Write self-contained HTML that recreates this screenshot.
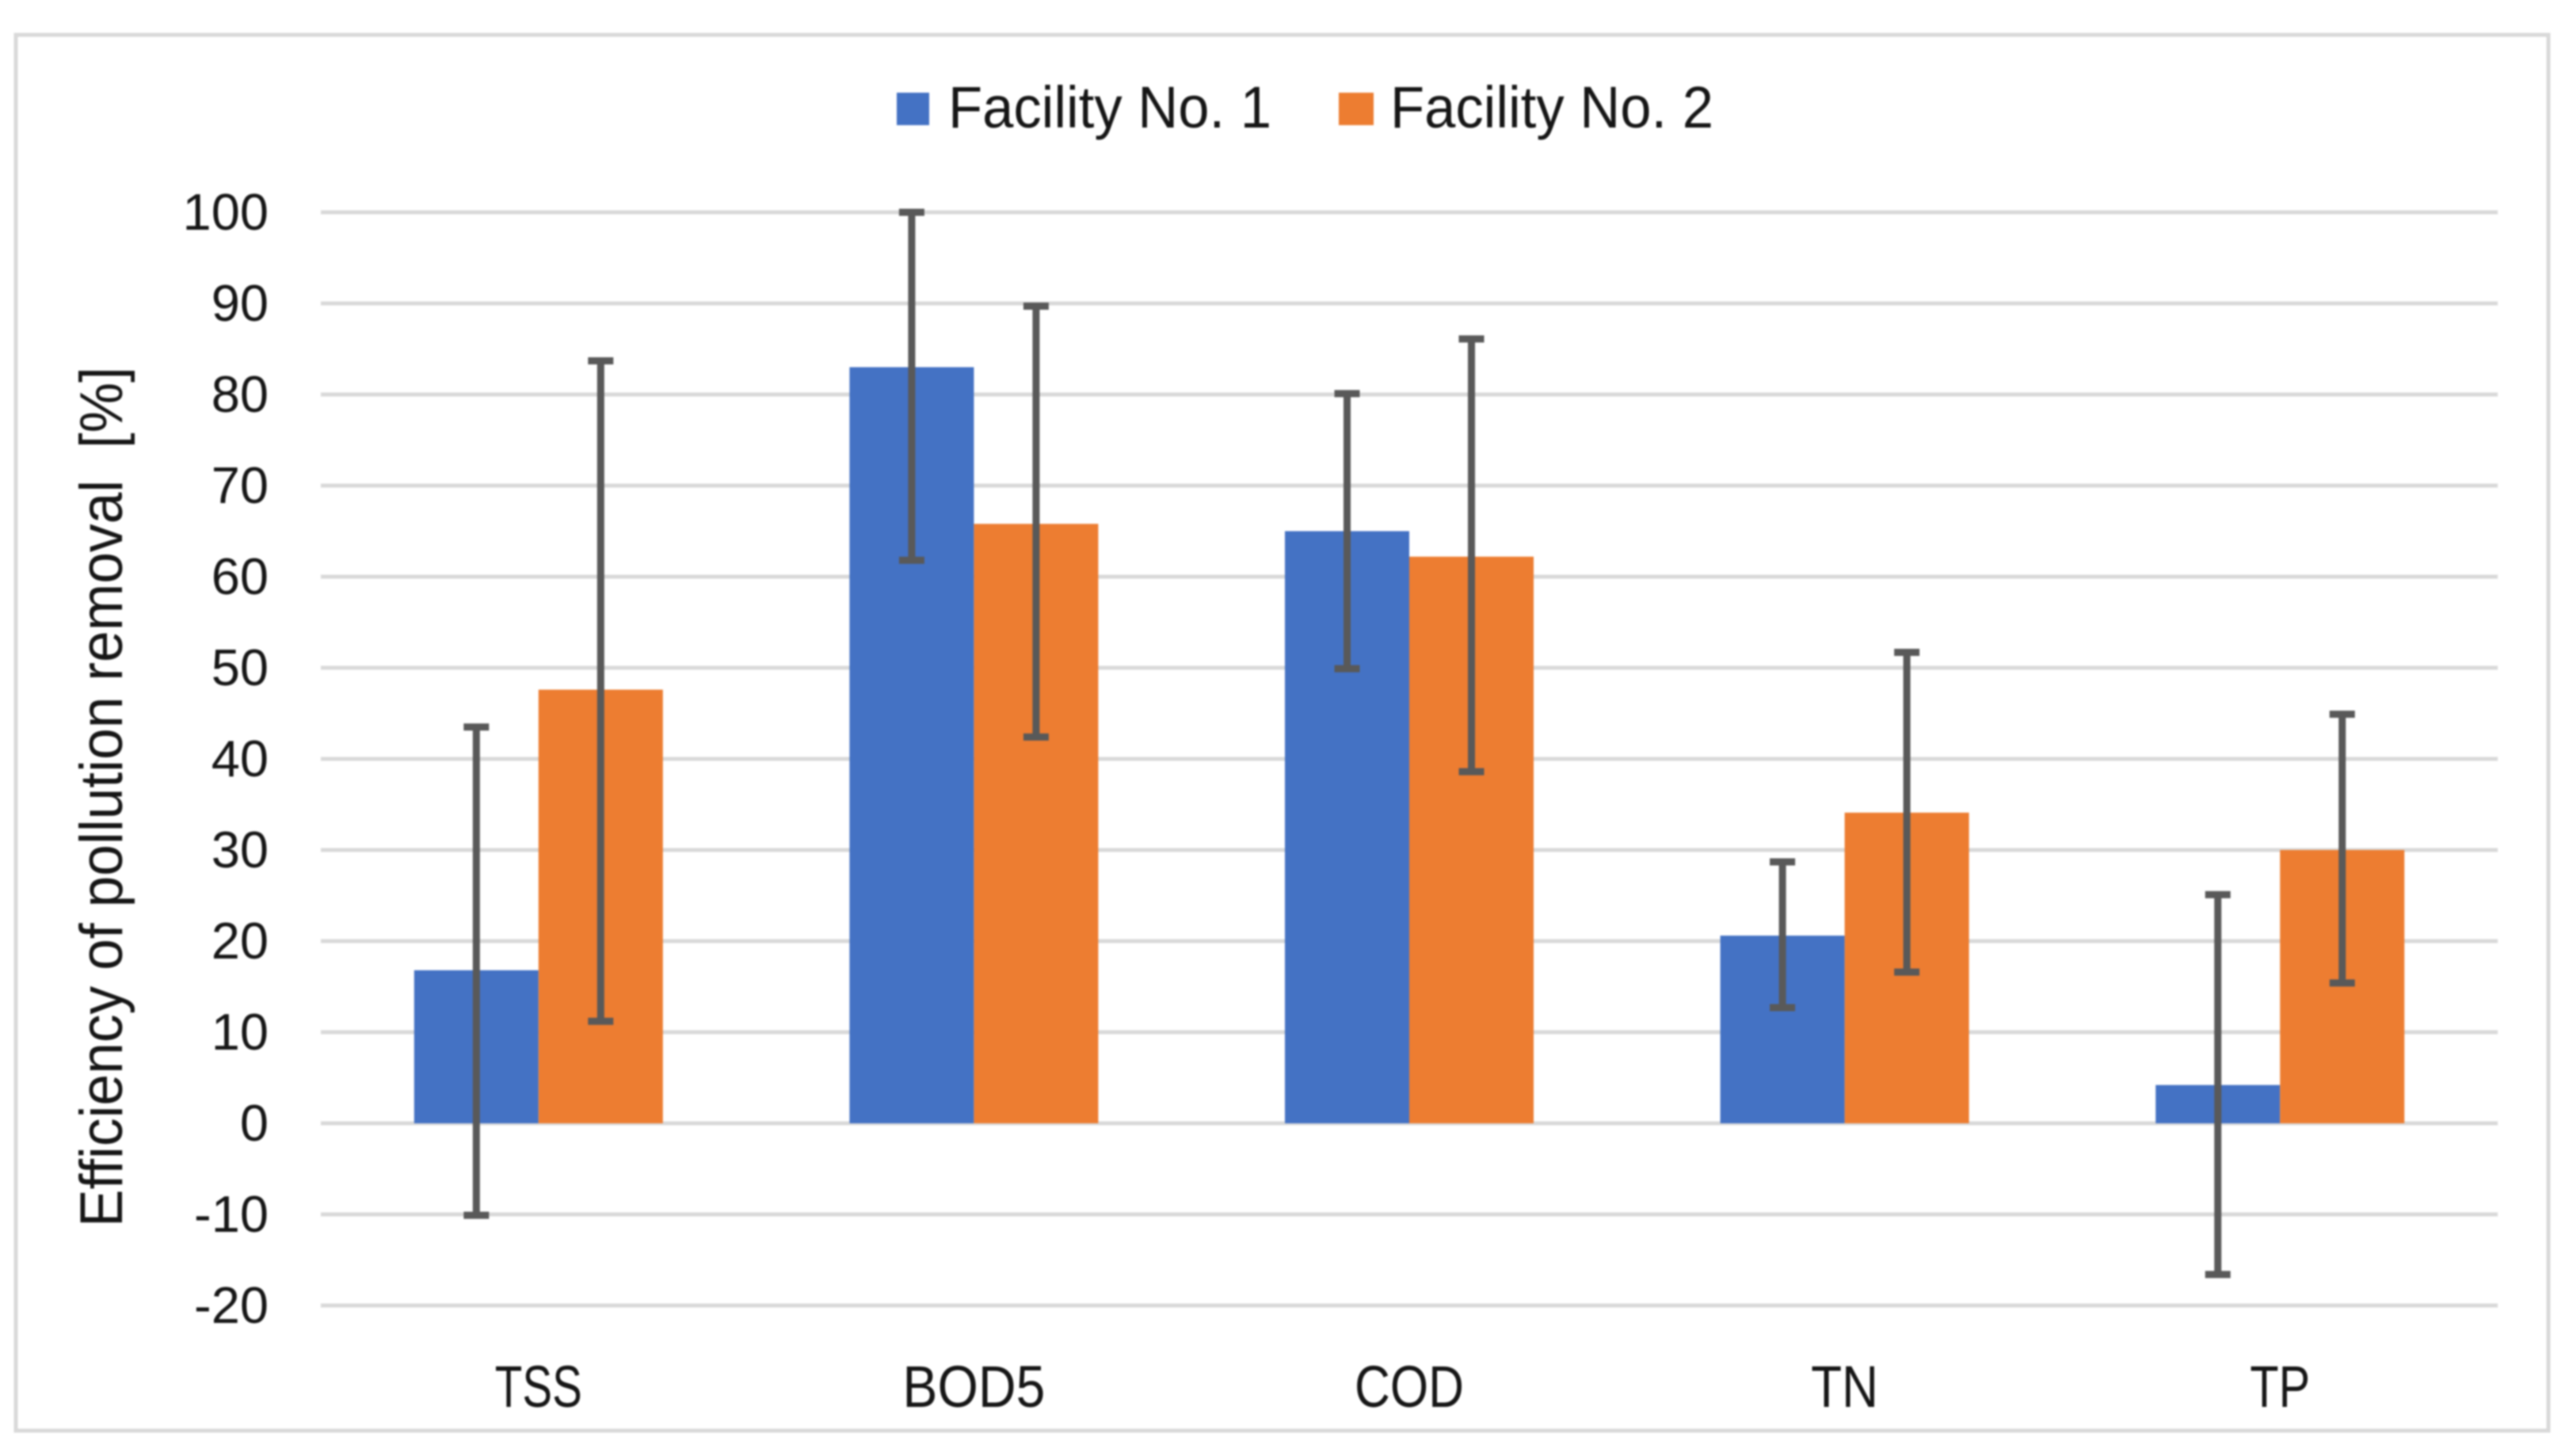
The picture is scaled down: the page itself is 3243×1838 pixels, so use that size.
<!DOCTYPE html>
<html lang="en">
<head>
<meta charset="utf-8">
<title>Efficiency of pollution removal</title>
<style>
html,body{margin:0;padding:0;background:#fff;}
body{width:3243px;height:1838px;overflow:hidden;}
svg{display:block;filter:blur(1px);}
text{font-family:"Liberation Sans",sans-serif;fill:#161616;}
</style>
</head>
<body>
<svg id="chart" width="3243" height="1838" viewBox="0 0 3243 1838" xmlns="http://www.w3.org/2000/svg">
  <rect x="0" y="0" width="3243" height="1838" fill="#fff"/>
  <rect x="20" y="44" width="3197" height="1762" fill="#fff" stroke="#d9d9d9" stroke-width="5"/>
  <g id="grid"></g>
  <g id="yticks"></g>
  <g id="bars"></g>
  <g id="errs"></g>
  <g id="xticks"></g>
  <text transform="translate(154,1549) rotate(-90)" font-size="76" textLength="1086" lengthAdjust="spacingAndGlyphs">Efficiency of pollution removal&#160; [%]</text>
  <g>
    <rect x="1132" y="117" width="41" height="41" fill="#4472C4"/>
    <text x="1197" y="161" font-size="74" textLength="408" lengthAdjust="spacingAndGlyphs">Facility No. 1</text>
    <rect x="1690" y="117" width="44" height="41" fill="#ED7D31"/>
    <text x="1755" y="161" font-size="74" textLength="408" lengthAdjust="spacingAndGlyphs">Facility No. 2</text>
  </g>
</svg>
<script>
const categories = ["TSS", "BOD5", "COD", "TN", "TP"];
const categoryLabelWidths = [110, 180, 138, 85, 76];
const yTicks = [100, 90, 80, 70, 60, 50, 40, 30, 20, 10, 0, -10, -20];
const facility1 = [16.8, 83, 65, 20.6, 4.2];
const facility2 = [47.6, 65.8, 62.2, 34.1, 30];
const facility1High = [43.5, 100, 80.1, 28.7, 25.1];
const facility1Low = [-10.1, 61.8, 49.9, 12.7, -16.6];
const facility2High = [83.7, 89.7, 86.1, 51.7, 44.9];
const facility2Low = [11.2, 42.4, 38.6, 16.6, 15.4];

const NS = "http://www.w3.org/2000/svg";
const plotLeft = 405, plotRight = 3153, barWidth = 157;
function yScale(v) { return 1418 - v * 11.5; }
function xBand(i) { return plotLeft + (plotRight - plotLeft) / categories.length * (i + 0.5); }
function make(tag, attrs, parent) {
  const el = document.createElementNS(NS, tag);
  for (const k in attrs) el.setAttribute(k, attrs[k]);
  parent.appendChild(el);
  return el;
}
const gGrid = document.getElementById("grid");
const gY = document.getElementById("yticks");
const gBars = document.getElementById("bars");
const gErrs = document.getElementById("errs");
const gX = document.getElementById("xticks");

yTicks.forEach(function (t) {
  const line = make("line", {x1: plotLeft, x2: plotRight, y1: yScale(t), y2: yScale(t), stroke: "#d9d9d9", "stroke-width": 5}, gGrid);
  
  
  const label = make("text", {x: 339, y: yScale(t) + 22, "font-size": 65, "text-anchor": "end"}, gY);
  
  
  label.textContent = String(t);
});

function drawBar(i, value, left, color, name) {
  const y = yScale(value);
  const bar = make("rect", {x: left, y: y, width: barWidth, height: yScale(0) - y, fill: color}, gBars);
  
  
}
function drawError(cx, high, low, name) {
  const g = make("g", {stroke: "#595959", fill: "none"}, gErrs);
  
  
  make("line", {x1: cx, x2: cx, y1: yScale(high), y2: yScale(low), "stroke-width": 9}, g);
  make("line", {x1: cx - 16, x2: cx + 16, y1: yScale(high), y2: yScale(high), "stroke-width": 9}, g);
  make("line", {x1: cx - 16, x2: cx + 16, y1: yScale(low), y2: yScale(low), "stroke-width": 9}, g);
}

categories.forEach(function (c, i) {
  const cx = xBand(i);
  drawBar(i, facility1[i], cx - barWidth, "#4472C4", "bar-facility-1");
  drawBar(i, facility2[i], cx, "#ED7D31", "bar-facility-2");
  drawError(cx - barWidth / 2, facility1High[i], facility1Low[i], "error-bar-facility-1");
  drawError(cx + barWidth / 2, facility2High[i], facility2Low[i], "error-bar-facility-2");
  const label = make("text", {x: cx, y: 1776, "font-size": 74, "text-anchor": "middle", textLength: categoryLabelWidths[i], lengthAdjust: "spacingAndGlyphs"}, gX);
  
  
  label.textContent = c;
});
</script>
</body>
</html>
